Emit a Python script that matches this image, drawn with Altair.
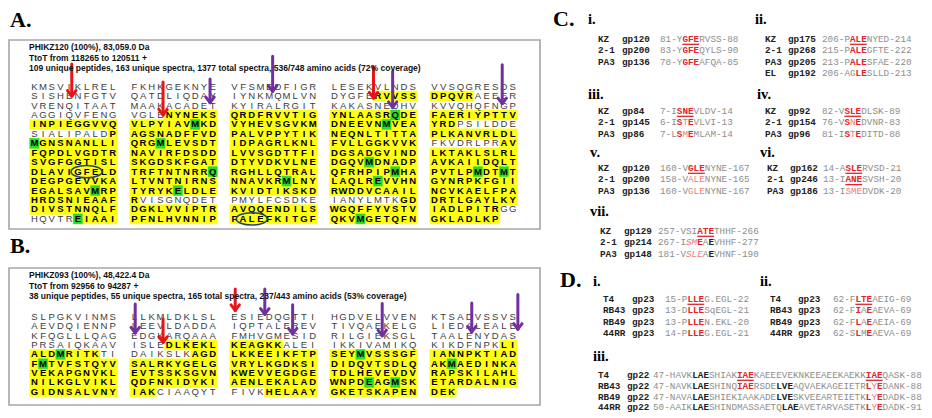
import altair as alt
import pandas as pd

# ------------------------------------------------------------------ data
A_HEADER = ["PHIKZ120 (100%), 83,059.0 Da",
            "TtoT from 118265 to 120511 +",
            "109 unique peptides, 163 unique spectra, 1377 total spectra, 536/748 amino acids (72% coverage)"]
A_SEQ = [
    "KMSVIKLREL FKHKGEKNYE VFSMEDFIGR LESEKVLNDS VVSQGRESDS",
    "SISHENFGTV QATDLIQDAY IYNKMQMLVN DYGFERVVSS DPQVRAEEER",
    "VRENQITAAT MAAKACADET KYIRALRGIT KAKASNEDHV KVVQHQFNGP",
    "AGGIQVFENG VGLENYNEKS QRDFRVVTIG YNLAASRQDE FAERIYPTTV",
    "INPIEGGVVQ VLPYIAVMKD VYHEVSGVKM DNEEVNMVEA YRDPSILDDE",
    "SIALIPALDP AGSNADFFVD PALVPPYTIK NEQNLTITTA PLKANVRLDL",
    "MGNSNANLLI QRGMLEVSDT IDPAGRLKNL FVLLGGKVVK FKVDRLPRAV",
    "FQPDLVGDTR NAVIRFDSDD LVVSGDTTFI DGSADGVIND LKTAKLSLRL",
    "SVGFGGTISL SKGDSKFGAT DTYVDKVLNE DGQVMDNADP AVKAIIDQLT",
    "DLAVIGFELD TRFTNTNRRQ RGHLLQTRAL QFRHPIPMHA PVTLPMDTMT",
    "DEGPGEVVKA LTVNTNIRNS NNAVKRMLNY LAQLREVVHN GYNRPKFGII",
    "EGALSAVMRP TYRYKELDLE KVIDTIKSKD RWDDVCAAIL NCVKAELFPA",
    "HRDSNIEAAF RVISGNQDET PMYLFCSDKE IANYLMTKGD DRTLGAYLKY",
    "DIVSTNNQLF DGKLVVIPTR AVQQENDILS WGQFFYVSTV IADLPITRGG",
    "HQVTREIAAI PFNLHVNNIP FALEFKITGF QKVMGETQFN GKLADLKP",
]
# coverage: y = covered peptide, g = covered + modified residue, . = not covered
A_COV = [
    ".......... .......... .......... .......... ..........",
    ".......... .......... .......... .....yyyyy yyyyy.....",
    ".......... .......... .......... .......... ..........",
    ".......... ....yyyyyy yyyyyyyyyy yyyyyyygyy yyyyyyyyyy",
    "yyyyyyyyyy yyyyyyygyy yyyyyyyyyy yyyyyygyyy yyy.......",
    ".........y yyyyyyyyyy yyyyyyyyyy yyyyyyyyyy yyyyyyyyyy",
    "gyyyyyyyyy yyygyyyyyy yyyyyyyyyy yyyyyyyyyy ........yy",
    "yyyyyyyyyy yyyyyyyyyy yyyyyyyyyy yyyyyyyyyy yyyyyyyyyy",
    "yyyyyyyyyy yyyyyyyyyy yyyyyyyyyy yyyygyyyyy yyyyyyyyyy",
    "yyyyyyyyyy yyyyyyyyyg yyyyyyyyyy yyyyyyygyy yyyyygyygy",
    "yyyyyyyyyy yyyyyyyyyy yyyyyygyyy yyyyygyyyy yyyyyyyyyy",
    "yyyyyyygyy yyyyygyyyy yyyyyyyyyy yyyyyyyyyy yyyyyyyyyy",
    "yyyyyyyyyy y......... .......... ........yy yyyyyyyyyy",
    "yyyyyyyyyy yyyyyyyyyy yyyyyyyyyy yyyyyyyyyy yyyyyyyy..",
    ".....gyyyy yyyyyyyyyy yyyyyyyyyy yyygyyyyyy yyyyyyyy",
]
# circled motifs: (row, block, first residue, n residues)
A_OVALS = [(9, 0, 5, 3), (14, 2, 1, 3)]
# arrows: (colour, block, residue offset, start row, tip row)
A_ARROWS = [
    ("red", 0, 4.8, -2.4, 1.0),
    ("red", 1, 3.8, -0.5, 3.0),
    ("purple", 1, 9.2, -0.8, 1.7),
    ("purple", 2, 4.9, -3.2, 0.5),
    ("red", 3, 5.0, -2.1, 1.2),
    ("purple", 3, 7.2, -1.6, 2.2),
    ("purple", 4, 8.3, -2.3, 1.8),
]

B_HEADER = ["PHIKZ093 (100%), 48,422.4 Da",
            "TtoT from 92956 to 94287 +",
            "38 unique peptides, 55 unique spectra, 165 total spectra, 237/443 amino acids (53% coverage)"]
B_SEQ = [
    "SLPGKVINMS LLKMLDKLSL ESIEDQGTTI HGDVELVVEN KTSADVSSVS",
    "AEVDQIENNP LEEVLDADDA IQPTALEREV TIVQAEKELG LIEDALEALE",
    "KFQGLLLQAG EDGKARQAAA FMHVGMESID RILGIEKSGL TAALENYDAS",
    "PRSAIQKAAV ISLEDLKEKL KEAGKKALEI IKKIVAMIKQ KIKDFNPKLI",
    "ALDMRITKTI DAIKSLKAGD LKKEEIKFTP SEYMVSSSGF IANNPKTIAD",
    "FMTVFSTQYV SALRKYGELG VRYLKGDKSI DIDQVTSDLQ AKMAEDINKA",
    "VEKAPGNVKL EVTSSKSGVN KWEVVEGDGE TDLHEVEVDV RAPSKILAHL",
    "NILKGLVIKL QDFNKIDYKI AENLEKALAD WNPDEAGMSK ETARDALNIG",
    "GIDNSALVNY IAKCIAAQYT FIVKHELAAY GKETSKAPEN DEK",
]
B_COV = [
    ".......... .......... .......... .......... ..........",
    ".......... .......... .......... .......... ..........",
    ".......... .......... .......... .......... ..........",
    ".......... ....yyyyyy yyyyyy.... .......... ........yy",
    "yyygyyyy.. .......yyy yyyyyyyyyy yyygyyyyyy yyyyyyyyyy",
    "ygyyyyyyyy yyyyyyyyyy yyyyyyyyyy yyyyyyyyyy yygyyyyyyy",
    "yyyyyyyyyy yyyyyyyyyy yyyyyyyyyy yyyyyyyyyy yyyyyyyyyy",
    "yyyyyyyyyy yyyyyyyyyy yyyyyyyyyy yyyygyygyy yyyyyyyyyy",
    "yyyyyyyyyy yyy....... ....yyyyyy yyyyyyyyyy yyy",
]
B_ARROWS = [
    ("red", 1, 3.8, 0.2, 2.7),
    ("red", 2, 0.6, -3.0, -0.7),
    ("purple", 2, 4.0, -3.0, -0.3),
    ("purple", 1, 0.6, -1.4, 1.7),
    ("purple", 2, 7.2, -1.3, 1.8),
    ("purple", 3, 6.0, -1.45, 2.0),
    ("purple", 4, 4.8, -1.5, 1.6),
    ("purple", 4, 10.1, -2.4, 1.3),
]

# alignments: [..] motif underlined, {..} red, (..) light red, ~..~ light red italic, <..> bold black
C_BLOCKS = [
    ("i.", [("KZ", "gp120", "81-Y[GFE]RVSS-88"),
            ("2-1", "gp200", "83-Y{GFE}QYLS-90"),
            ("PA3", "gp136", "78-Y{GFE}AFQA-85")]),
    ("ii.", [("KZ", "gp175", "206-P[ALE]NYED-214"),
             ("2-1", "gp268", "215-P{ALE}GFTE-222"),
             ("PA3", "gp205", "213-P{ALE}SFAE-220"),
             ("EL", "gp192", "206-AG{LE}SLLD-213")]),
    ("iii.", [("KZ", "gp84", "7-I[SNE]VLDV-14"),
              ("2-1", "gp145", "6-I{S}(T){E}VLVI-13"),
              ("PA3", "gp86", "7-L{S}(M){E}MLAM-14")]),
    ("iv.", [("KZ", "gp92", "82-V[SLE]DLSK-89"),
             ("2-1", "gp154", "76-V{S}(N){E}DVNR-83"),
             ("PA3", "gp96", "81-I{S}(T){E}DITD-88")]),
    ("v.", [("KZ", "gp120", "160-V[GLE]NYNE-167"),
            ("2-1", "gp200", "158-V(ALE)NYNE-165"),
            ("PA3", "gp136", "160-V(GLE)NYNE-167")]),
    ("vi.", [("KZ", "gp162", "14-A[SLE]RVSD-21"),
             ("2-1", "gp246", "13-I[ANE]SVSH-20"),
             ("PA3", "gp186", "13-I(SME)DVDK-20")]),
    ("vii.", [("KZ", "gp129", "257-VSI[ATE]THHF-266"),
              ("2-1", "gp214", "267-I~SM~{E}A<E>VHHF-277"),
              ("PA3", "gp148", "181-V~SLE~A<E>VHNF-190")]),
]
D_BLOCKS = [
    ("i.", [("T4", "gp23", "15-P[LLE]G.EGL-22"),
            ("RB43", "gp23", "13-D{LLE}SqEGL-21"),
            ("RB49", "gp23", "13-P{LLE}N.EKL-20"),
            ("44RR", "gp23", "14-P{LLE}G.EGL-21")]),
    ("ii.", [("T4", "gp23", "62-F[LTE]AEIG-69"),
             ("RB43", "gp23", "62-F{I}A{E}AEVA-69"),
             ("RB49", "gp23", "62-F{L}A{E}AEIA-69"),
             ("44RR", "gp23", "62-S{L}M{E}AEVA-69")]),
    ("iii.", [("T4", "gp22", "47-HAVK<LAE>SHIAK[IAE]KAEEEVEKNKEEAEEKAEKK[IAE]QASK-88"),
              ("RB43", "gp22", "47-NAVK<LAE>SHINQ{IAE}RSDE<LVE>AQVAEKAGEIETR{L}(Y){E}DANK-88"),
              ("RB49", "gp22", "47-NAVA<LAE>SHIEKIAAKADE<LVE>SKVEEARTEIETK{L}(Y){E}DADK-88"),
              ("44RR", "gp22", "50-AAIK<LAE>SHINDMASSAETQ<LAE>AVETARVASETK{L}(Y){E}DADK-91")]),
]
PANEL_LETTERS = ["A.", "B.", "C.", "D."]

# ------------------------------------------------------------------ layout (screen pixels)
PITCH, COLGAP, X0 = 8.7, 100, 30
A_ROW0, A_STEP = 85.6, 9.45
B_ROW0, B_STEP = 316, 9.35
A_HEAD_Y = [46, 56.5, 67]
B_HEAD_Y = [274, 284.5, 295]
BOXES = [(9, 39, 540, 228), (9, 267, 540, 404)]
LETTER_POS = [(10, 19), (10, 245), (553, 18), (560, 279)]
# (title x, title y, org x, gene x, seq x, first row y, row step)
C_LAYOUT = [(588, 19, 598, 622, 660, 38, 11.3), (755, 19, 765, 788, 822, 38, 11.3),
            (588, 94, 598, 622, 660, 110, 11.3), (757, 94, 765, 788, 822, 110, 11.3),
            (590, 152, 598, 622, 660, 167, 11.3), (760, 152, 767, 790, 823, 167, 11.3),
            (590, 211, 600, 624, 658, 230, 11.3)]
D_LAYOUT = [(593, 281, 603, 632, 665, 298, 11.3), (760, 281, 770, 798, 833, 298, 11.3),
            (593, 356, 598, 627, 653, 374, 10.8)]
MONO_PITCH = 5.6
COLORS = {"red": "#e8141c", "purple": "#7030a0"}

# ------------------------------------------------------------------ frames
res, arrows, ovals, heads = [], [], [], []


def add_protein(seq, cov, row0, step, arrow_list, oval_list, head, head_y):
    for r, (s, m) in enumerate(zip(seq, cov)):
        for c, (b, mb) in enumerate(zip(s.split(" "), m.split(" "))):
            assert len(b) == len(mb), (b, mb)
            for i, (ch, mk) in enumerate(zip(b, mb)):
                cx = X0 + c * COLGAP + (i + 0.5) * PITCH
                cy = row0 + r * step
                res.append(dict(x=cx, y=cy, x1=cx - PITCH / 2 - 0.3, x2=cx + PITCH / 2 + 0.3,
                                y1=cy - step / 2 - 0.3, y2=cy + step / 2 + 0.3, ch=ch, mk=mk))
    for col, blk, off, r0, r1 in arrow_list:
        ax = X0 + blk * COLGAP + off * PITCH
        ya, yb = row0 + r0 * step, row0 + r1 * step
        arrows.append(dict(x=ax, x2=ax, y=ya, y2=yb, c=col))
        arrows.append(dict(x=ax, x2=ax - 4.2, y=yb, y2=yb - 5.5, c=col))
        arrows.append(dict(x=ax, x2=ax + 4.2, y=yb, y2=yb - 5.5, c=col))
    for r, blk, first, n in oval_list:
        ovals.append(dict(x=X0 + blk * COLGAP + (first + n / 2) * PITCH, y=row0 + r * step))
    for t, y in zip(head, head_y):
        heads.append(dict(x=X0 - 1, y=y, t=t))


add_protein(A_SEQ, A_COV, A_ROW0, A_STEP, A_ARROWS, A_OVALS, A_HEADER, A_HEAD_Y)
add_protein(B_SEQ, B_COV, B_ROW0, B_STEP, B_ARROWS, [], B_HEADER, B_HEAD_Y)
res = pd.DataFrame(res)
arrows = pd.DataFrame(arrows)
ovals = pd.DataFrame(ovals)
heads = pd.DataFrame(heads)
boxes = pd.DataFrame([dict(x1=a, y1=b, x2=c, y2=d) for a, b, c, d in BOXES])
letters = pd.DataFrame([dict(x=p[0], y=p[1], t=t) for t, p in zip(PANEL_LETTERS, LETTER_POS)])


def parse(s):
    out, st = [], "."
    opens = {"[": "U", "{": "R", "(": "p", "<": "K"}
    for ch in s:
        if ch in opens:
            st = opens[ch]
        elif ch in "]})>":
            st = "."
        elif ch == "~":
            st = "i" if st != "i" else "."
        else:
            out.append((ch, st))
    return out


romans, labels, chars, unders = [], [], [], []
for blocks, layout in ((C_BLOCKS, C_LAYOUT), (D_BLOCKS, D_LAYOUT)):
    for (title, lines), (tx, ty, ox, gx, sx, y0, rs) in zip(blocks, layout):
        romans.append(dict(x=tx, y=ty, t=title))
        for k, (org, gene, s) in enumerate(lines):
            y = y0 + k * rs
            labels.append(dict(x=ox, y=y, t=org))
            labels.append(dict(x=gx, y=y, t=gene))
            pc = parse(s)
            for i, (ch, st) in enumerate(pc):
                chars.append(dict(x=sx + (i + 0.5) * MONO_PITCH, y=y, ch=ch, st=st))
            i = 0
            while i < len(pc):
                if pc[i][1] == "U":
                    j = i
                    while j < len(pc) and pc[j][1] == "U":
                        j += 1
                    unders.append(dict(x=sx + i * MONO_PITCH, x2=sx + j * MONO_PITCH,
                                       y=y + 5.3, y2=y + 5.3))
                    i = j
                else:
                    i += 1
romans = pd.DataFrame(romans)
labels = pd.DataFrame(labels)
chars = pd.DataFrame(chars)
unders = pd.DataFrame(unders)

# ------------------------------------------------------------------ chart
# scales map straight onto page pixels (plot area starts at the 8px page margin)
XS = alt.Scale(domain=[8, 924], nice=False, zero=False)
YS = alt.Scale(domain=[8, 410], nice=False, zero=False, reverse=True)


def xy(xf="x", yf="y"):
    return dict(x=alt.X(f"{xf}:Q", scale=XS, axis=None), y=alt.Y(f"{yf}:Q", scale=YS, axis=None))


def rects(df, filt, color):
    return alt.Chart(df).transform_filter(filt).mark_rect(color=color, stroke=color, strokeWidth=0.4).encode(
        x=alt.X("x1:Q", scale=XS, axis=None), x2="x2:Q",
        y=alt.Y("y1:Q", scale=YS, axis=None), y2="y2:Q")


layers = []
layers.append(alt.Chart(boxes).mark_rect(fill="white", stroke="#a6a6a6", strokeWidth=1.6).encode(
    x=alt.X("x1:Q", scale=XS, axis=None), x2="x2:Q",
    y=alt.Y("y1:Q", scale=YS, axis=None), y2="y2:Q"))
layers.append(rects(res, "datum.mk != '.'", "#ffff14"))
layers.append(rects(res, "datum.mk == 'g'", "#27dc2f"))
layers.append(alt.Chart(res).transform_filter("datum.mk == '.'").mark_text(
    font="Liberation Sans", fontSize=9.5, color="#3c3c3c", align="center", baseline="middle").encode(
    text="ch:N", **xy()))
layers.append(alt.Chart(res).transform_filter("datum.mk != '.'").mark_text(
    font="Liberation Sans", fontSize=9.5, fontWeight="bold", color="#000000", align="center",
    baseline="middle").encode(text="ch:N", **xy()))
layers.append(alt.Chart(ovals).mark_point(
    shape="M-1,0A1,0.4,0,1,0,1,0A1,0.4,0,1,0,-1,0Z", size=960, filled=False,
    stroke="#23407a", strokeWidth=1.5, opacity=1).encode(**xy()))
layers.append(alt.Chart(arrows).mark_rule(strokeWidth=3, strokeCap="round").encode(
    x=alt.X("x:Q", scale=XS, axis=None), x2="x2:Q",
    y=alt.Y("y:Q", scale=YS, axis=None), y2="y2:Q",
    color=alt.Color("c:N", scale=alt.Scale(domain=list(COLORS), range=list(COLORS.values())), legend=None)))
layers.append(alt.Chart(heads).mark_text(
    font="Liberation Sans", fontSize=8.5, fontWeight="bold", color="#111111", align="left",
    baseline="middle").encode(text="t:N", **xy()))
layers.append(alt.Chart(letters).mark_text(
    font="Liberation Serif", fontSize=22, fontWeight="bold", color="#000000", align="left",
    baseline="middle").encode(text="t:N", **xy()))
layers.append(alt.Chart(romans).mark_text(
    font="Liberation Serif", fontSize=14.5, fontWeight="bold", color="#000000", align="left",
    baseline="middle").encode(text="t:N", **xy()))
layers.append(alt.Chart(labels).mark_text(
    font="Liberation Mono", fontSize=9.3, fontWeight="bold", color="#222222", align="left",
    baseline="middle").encode(text="t:N", **xy()))
STYLES = {".": ("#8e8e8e", "normal", "normal"), "R": ("#e3242b", "bold", "normal"),
          "U": ("#e3242b", "bold", "normal"), "p": ("#ee7b7b", "normal", "normal"),
          "i": ("#ee7b7b", "normal", "italic"), "K": ("#222222", "bold", "normal")}
for code, (col, wt, sty) in STYLES.items():
    layers.append(alt.Chart(chars).transform_filter(f"datum.st == '{code}'").mark_text(
        font="Liberation Mono", fontSize=9.3, fontWeight=wt, fontStyle=sty, color=col,
        align="center", baseline="middle").encode(text="ch:N", **xy()))
layers.append(alt.Chart(unders).mark_rule(color="#e3242b", strokeWidth=1.3).encode(
    x=alt.X("x:Q", scale=XS, axis=None), x2="x2:Q",
    y=alt.Y("y:Q", scale=YS, axis=None), y2="y2:Q"))

chart = alt.layer(*layers).properties(width=916, height=402, padding=0, background="white").configure_view(
    stroke=None)
chart.save("out.html", embed_options={"renderer": "svg", "actions": False})
